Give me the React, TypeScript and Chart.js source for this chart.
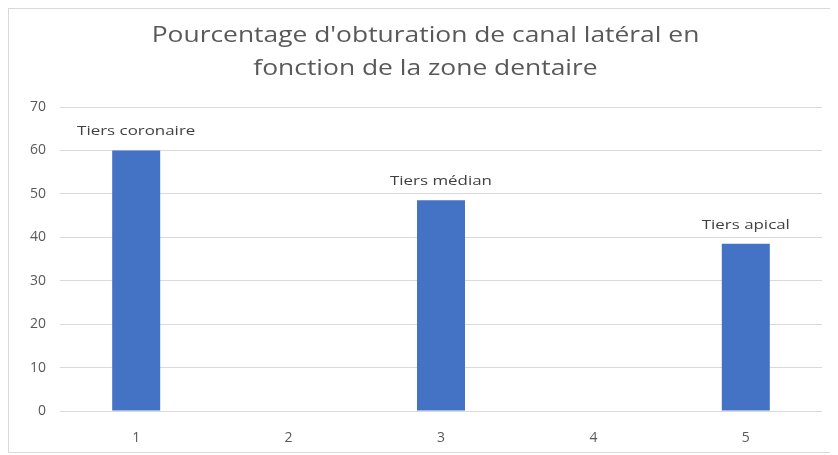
import React, { useEffect, useRef } from "react";
import { Chart, registerables } from "chart.js";

Chart.register(...registerables);

const categories = ["1", "2", "3", "4", "5"];
const values: (number | null)[] = [60, null, 48.5, null, 38.5];
const barLabels = ["Tiers coronaire", "", "Tiers médian", "", "Tiers apical"];
const titleLines = [
  "Pourcentage d'obturation de canal latéral en",
  "fonction de la zone dentaire",
];

const FONT = "'Open Sans', 'Liberation Sans', sans-serif";
const STRETCH = 1.2;

function stretchedText(ctx: any, text: string, x: number, y: number, s: number) {
  ctx.save();
  ctx.translate(x, y);
  ctx.scale(s, 1);
  ctx.fillText(text, 0, 0);
  ctx.restore();
}

const titlePlugin = {
  id: "customTitle",
  afterDraw(chart: any) {
    const ctx = chart.ctx;
    ctx.save();
    ctx.fillStyle = "#595959";
    ctx.font = `22px ${FONT}`;
    ctx.textAlign = "center";
    ctx.textBaseline = "middle";
    const cx = chart.width / 2 + 2;
    stretchedText(ctx, titleLines[0], cx, 27, STRETCH);
    stretchedText(ctx, titleLines[1], cx, 60, STRETCH);
    ctx.restore();
  },
};

const labelPlugin = {
  id: "barLabels",
  afterDatasetsDraw(chart: any) {
    const ctx = chart.ctx;
    const meta = chart.getDatasetMeta(0);
    ctx.save();
    ctx.fillStyle = "#404040";
    ctx.font = `13px ${FONT}`;
    ctx.textAlign = "center";
    ctx.textBaseline = "middle";
    meta.data.forEach((el: any, i: number) => {
      if (values[i] == null || !barLabels[i]) return;
      stretchedText(ctx, barLabels[i], el.x, el.y - 19, 1.3);
    });
    ctx.restore();
  },
};

export default function App() {
  const ref = useRef<HTMLCanvasElement | null>(null);
  useEffect(() => {
    if (!ref.current) return;
    const chart = new Chart(ref.current, {
      type: "bar",
      data: {
        labels: categories,
        datasets: [
          {
            data: values,
            backgroundColor: "#4472c4",
            borderWidth: 0,
            barPercentage: 0.315,
            categoryPercentage: 1,
          },
        ],
      },
      options: {
        animation: false,
        responsive: false,
        maintainAspectRatio: false,
        layout: { padding: { top: 98, right: 16, left: 0, bottom: 0 } },
        plugins: {
          legend: { display: false },
          title: { display: false },
          tooltip: { enabled: false },
        },
        scales: {
          x: {
            grid: { display: false, drawTicks: false },
            border: { display: false },
            ticks: {
              color: "#595959",
              font: { size: 14, family: FONT },
              padding: 19,
            },
            afterFit(scale: any) {
              scale.height = 41;
            },
          },
          y: {
            min: 0,
            max: 70,
            grid: { color: "#d9d9d9", drawTicks: false },
            border: { display: false },
            ticks: {
              stepSize: 10,
              color: "#595959",
              font: { size: 14, family: FONT },
              padding: 14,
            },
            afterFit(scale: any) {
              scale.width = 51;
            },
          },
        },
      },
      plugins: [titlePlugin, labelPlugin],
    });
    return () => chart.destroy();
  }, []);
  return (
    <div
      style={{
        width: 829,
        height: 443,
        borderLeft: "1px solid #d9d9d9",
        borderTop: "1px solid #d9d9d9",
        borderBottom: "1px solid #d9d9d9",
        background: "#fff",
      }}
    >
      <canvas ref={ref} width={829} height={443} style={{ display: "block" }} />
    </div>
  );
}
